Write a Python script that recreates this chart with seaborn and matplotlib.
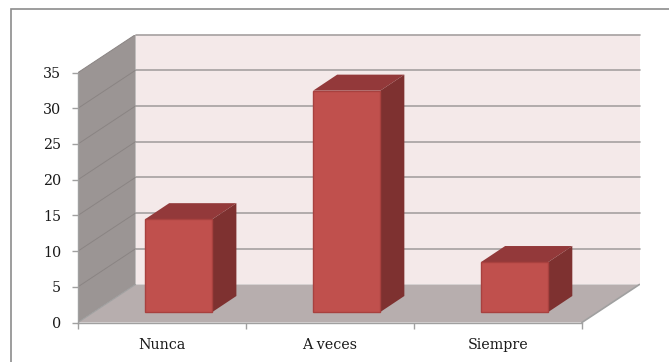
import matplotlib
matplotlib.use("Agg")
import matplotlib.pyplot as plt
import matplotlib.patches as mpatches
import seaborn as sns

categories = ["Nunca", "A veces", "Siempre"]
values = [13, 31, 7]
y_ticks = [0, 5, 10, 15, 20, 25, 30, 35]

# Oblique projection, expressed in data units
WALL_DX, WALL_DY = 0.343, 5.33
BAR_SHIFT, BAR_LIFT = 0.10, 1.47
BAR_DX, BAR_DY = 0.143, 2.24
BAR_WIDTH = 0.40
Y_MAX = 35
X0, X1 = -0.5, 2.5

BACK = "#f4e9e9"
WALL = "#9b9594"
FLOOR = "#b7aeae"
GRID = "#a5a0a0"
EDGE = "#a0a0a0"
FRONT = "#c0504d"
TOP = "#93393a"
SIDE = "#7e3130"
TEXT = "#1a1a1a"

sns.set_theme(style="white")
plt.rcParams["font.family"] = ["DejaVu Serif"]

W, H = 669, 362
fig = plt.figure(figsize=(W / 100, H / 100), dpi=100, facecolor="white")
ax = fig.add_axes([78 / W, (H - 322.5) / H, (639.5 - 78) / W, (322.5 - 34.5) / H])
ax.patch.set_alpha(0)

sns.barplot(x=categories, y=values, color=FRONT, width=BAR_WIDTH, saturation=1,
            edgecolor="#a8413f", linewidth=1, ax=ax, zorder=5)

# Room: back wall, side wall, floor
ax.fill([X0 + WALL_DX, X1 + WALL_DX, X1 + WALL_DX, X0 + WALL_DX],
        [WALL_DY, WALL_DY, Y_MAX + WALL_DY, Y_MAX + WALL_DY], color=BACK, lw=0, zorder=1)
ax.fill([X0, X0 + WALL_DX, X0 + WALL_DX, X0],
        [0, WALL_DY, Y_MAX + WALL_DY, Y_MAX], color=WALL, lw=0, zorder=1)
ax.fill([X0, X1, X1 + WALL_DX, X0 + WALL_DX],
        [0, 0, WALL_DY, WALL_DY], color=FLOOR, lw=0, zorder=1)

# Gridlines run along the side wall and across the back wall
for t in y_ticks[1:]:
    ax.plot([X0, X0 + WALL_DX], [t, t + WALL_DY], color="#8a8483", lw=0.7, zorder=2)
    ax.plot([X0 + WALL_DX, X1 + WALL_DX], [t + WALL_DY, t + WALL_DY], color=GRID,
            lw=1.2, zorder=2, clip_on=False)
ax.plot([X1, X1 + WALL_DX], [0, WALL_DY], color=EDGE, lw=1.2, zorder=2)
ax.plot([X0, X0 + WALL_DX], [0, WALL_DY], color=EDGE, lw=0.8, zorder=2)

# Move each bar into the room and add its top and right faces
for bar, value in zip(ax.patches, values):
    x = bar.get_x() + BAR_SHIFT
    w = bar.get_width()
    bar.set_x(x)
    bar.set_y(BAR_LIFT)
    y_top = BAR_LIFT + value
    ax.fill([x, x + w, x + w + BAR_DX, x + BAR_DX],
            [y_top, y_top, y_top + BAR_DY, y_top + BAR_DY], color=TOP, lw=0, zorder=4)
    ax.fill([x + w, x + w + BAR_DX, x + w + BAR_DX, x + w],
            [BAR_LIFT, BAR_LIFT + BAR_DY, y_top + BAR_DY, y_top], color=SIDE, lw=0, zorder=4)

ax.set_xlim(X0, X1 + WALL_DX)
ax.set_ylim(0, Y_MAX + WALL_DY)

for side in ["top", "right"]:
    ax.spines[side].set_visible(False)
ax.spines["left"].set_bounds(0, Y_MAX)
ax.spines["bottom"].set_bounds(X0, X1)
for side in ["left", "bottom"]:
    ax.spines[side].set_color(EDGE)
    ax.spines[side].set_linewidth(1)

ax.set_yticks(y_ticks)
ax.set_xticks([-0.5, 0.5, 1.5, 2.5])
ax.set_xticklabels([])
ax.set_xticks([0, 1, 2], minor=True)
ax.set_xticklabels(categories, minor=True)
ax.set_xlabel("")
ax.set_ylabel("")
ax.tick_params(axis="y", which="major", left=True, length=4, width=1, color=EDGE,
               labelsize=10.3, labelcolor=TEXT, pad=8)
ax.tick_params(axis="x", which="major", bottom=True, length=4, width=1, color=EDGE)
ax.tick_params(axis="x", which="minor", bottom=False, length=0,
               labelsize=10.3, labelcolor=TEXT, pad=11)

# Chart frame; only its left and top edges fall inside the canvas
fig.add_artist(mpatches.Rectangle((10.5 / W, -0.1), 1.2, 1.1 - 9 / H,
                                  transform=fig.transFigure, fill=False,
                                  edgecolor="#8c8c8c", linewidth=1.2))

fig.savefig("out.png", dpi=100)
